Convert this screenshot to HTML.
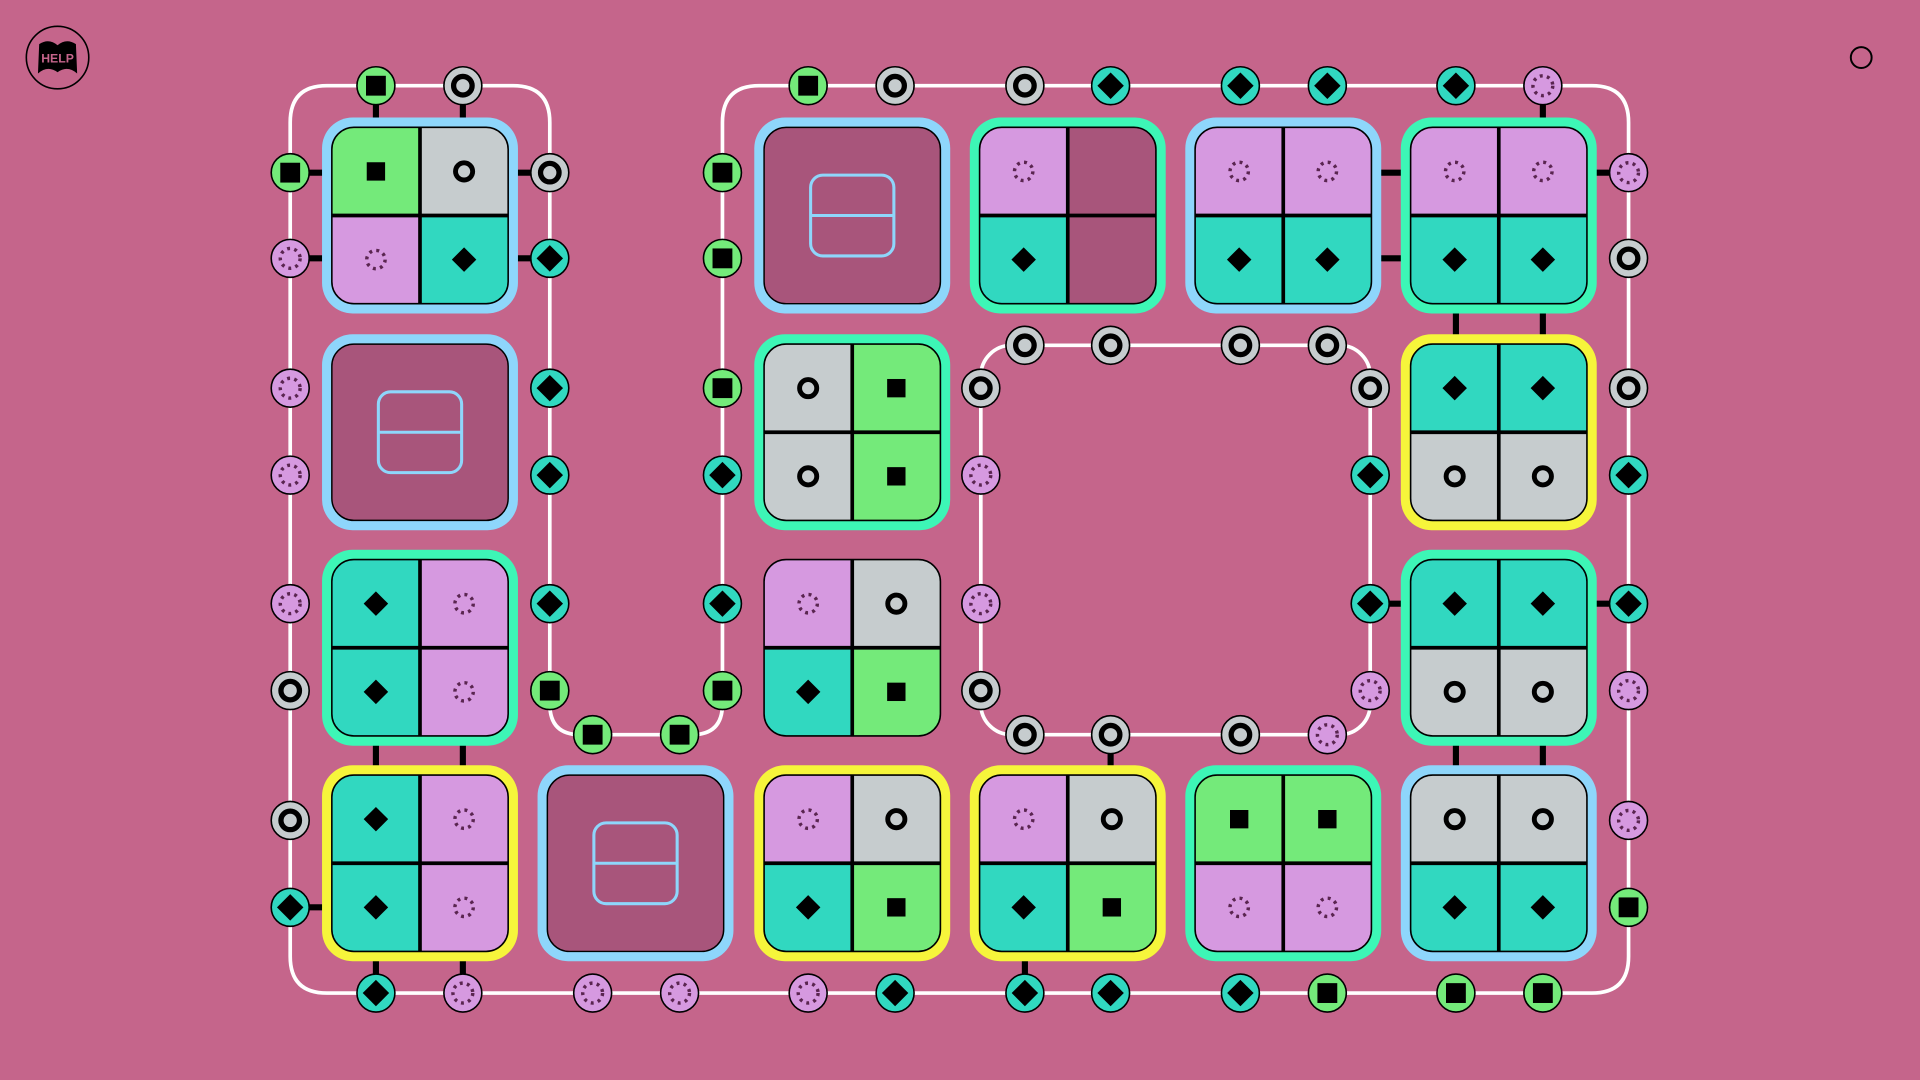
<!DOCTYPE html>
<html><head><meta charset="utf-8"><style>
html,body{margin:0;padding:0;background:#c5658b;overflow:hidden}
svg{display:block}
</style></head><body>
<svg id="s" width="1920" height="1080" viewBox="0 0 1568 882" xmlns="http://www.w3.org/2000/svg">
<rect width="1568" height="882" fill="#c5658b"/>
<g id="g"></g>
<circle cx="47" cy="47" r="25.5" fill="#c5658b" stroke="#000" stroke-width="1.3"/>
<path d="M32,36 Q40,31 47,37 Q54,31 62,36 L63,60 Q55,53 47,59 Q39,53 31,60 Z" fill="#000"/>
<text x="47" y="51" text-anchor="middle" font-family="Liberation Sans, sans-serif" font-weight="bold" font-size="10" fill="#c5658b">HELP</text>
<circle cx="1520" cy="47" r="8.5" fill="none" stroke="#000" stroke-width="1.6"/>
</svg>
<script>
const C={G:'#74ea7a',Y:'#c6ccce',L:'#d699e0',T:'#31d8c0',M:'#a8557b'};
const F={B:'#8ed6fb',N:'#3df6b6',Y:'#f6f53b'};
let o='';
function icon(t,x,y,k){k=k||1;
 if(t=='G'){let h=7.5*k;o+=`<rect x="${x-h}" y="${y-h}" width="${2*h}" height="${2*h}" fill="#000"/>`;}
 else if(t=='Y'){o+=`<circle cx="${x}" cy="${y}" r="${7*k}" fill="none" stroke="#000" stroke-width="${4*k}"/>`;}
 else if(t=='L'){o+=`<circle cx="${x}" cy="${y}" r="${7.5*k}" fill="none" stroke="#5a2550" stroke-width="2.8" stroke-dasharray="2.4 3.5"/>`;}
 else if(t=='T'){let h=10*k;o+=`<polygon points="${x},${y-h} ${x+h},${y} ${x},${y+h} ${x-h},${y}" fill="#000"/>`;}
}
function node(t,x,y){o+=`<circle cx="${x}" cy="${y}" r="15.5" fill="${C[t]}" stroke="#000" stroke-width="1.3"/>`;icon(t,x,y,1.08);}
function line(x1,y1,x2,y2){o+=`<line x1="${x1}" y1="${y1}" x2="${x2}" y2="${y2}" stroke="#000" stroke-width="5"/>`;}
const cols=[343,519,696,872,1048,1224], rows=[176,353,529,705];
let tid=0;
function tile(r,c,f,q){
 let x=cols[c],y=rows[r];
 if(f) o+=`<rect x="${x-80}" y="${y-80}" width="160" height="160" rx="25" fill="${F[f]}"/>`;
 if(q=='blank'){
  o+=`<rect x="${x-72}" y="${y-72}" width="144" height="144" rx="18" fill="${C.M}" stroke="#000" stroke-width="1.2"/>`;
  o+=`<rect x="${x-34}" y="${y-33}" width="68" height="66" rx="10" fill="none" stroke="${F.B}" stroke-width="2.5"/>`;
  o+=`<line x1="${x-34}" y1="${y}" x2="${x+34}" y2="${y}" stroke="${F.B}" stroke-width="2.5"/>`;
  return;
 }
 let id='c'+(tid++);
 o+=`<clipPath id="${id}"><rect x="${x-72}" y="${y-72}" width="144" height="144" rx="18"/></clipPath><g clip-path="url(#${id})">`;
 o+=`<rect x="${x-72}" y="${y-72}" width="72" height="72" fill="${C[q[0]]}"/>`;
 o+=`<rect x="${x}" y="${y-72}" width="72" height="72" fill="${C[q[1]]}"/>`;
 o+=`<rect x="${x-72}" y="${y}" width="72" height="72" fill="${C[q[2]]}"/>`;
 o+=`<rect x="${x}" y="${y}" width="72" height="72" fill="${C[q[3]]}"/>`;
 o+=`</g>`;
 o+=`<line x1="${x}" y1="${y-72}" x2="${x}" y2="${y+72}" stroke="#000" stroke-width="3"/>`;
 o+=`<line x1="${x-72}" y1="${y}" x2="${x+72}" y2="${y}" stroke="#000" stroke-width="3"/>`;
 o+=`<rect x="${x-72}" y="${y-72}" width="144" height="144" rx="18" fill="none" stroke="#000" stroke-width="1.3"/>`;
 const p=[[-36,-36],[36,-36],[-36,36],[36,36]];
 for(let i=0;i<4;i++) if(q[i]!='M') icon(q[i],x+p[i][0],y+p[i][1]);
}
o+=`<path d="M267,70 H419 Q449,70 449,100 V575 Q449,600 474,600 H565 Q590,600 590,575 V100 Q590,70 620,70 H1300 Q1330,70 1330,100 V781 Q1330,811 1300,811 H267 Q237,811 237,781 V100 Q237,70 267,70 Z" fill="none" stroke="#fff" stroke-width="3"/>`;
o+=`<rect x="801" y="282" width="318" height="318" rx="25" fill="none" stroke="#fff" stroke-width="3"/>`;
line(307,70,307,150);line(378,70,378,150);line(237,141,300,141);line(237,211,300,211);line(449,141,380,141);line(449,211,380,211);
line(1100,141,1200,141);line(1100,211,1200,211);line(1330,141,1250,141);line(1260,70,1260,150);
line(1189,200,1189,300);line(1260,200,1260,300);
line(1119,493,1200,493);line(1330,493,1250,493);
line(1189,560,1189,650);line(1260,560,1260,650);
line(307,560,307,650);line(378,560,378,650);
line(237,741,300,741);line(307,811,307,740);line(378,811,378,740);
line(907,600,907,700);line(837,811,837,740);
tile(0,0,'B','GYLT');tile(0,2,'B','blank');tile(0,3,'N','LMTM');tile(0,4,'B','LLTT');tile(0,5,'N','LLTT');
tile(1,0,'B','blank');tile(1,2,'N','YGYG');tile(1,5,'Y','TTYY');
tile(2,0,'N','TLTL');tile(2,2,null,'LYTG');tile(2,5,'N','TTYY');
tile(3,0,'Y','TLTL');tile(3,1,'B','blank');tile(3,2,'Y','LYTG');tile(3,3,'Y','LYTG');tile(3,4,'N','GGLL');tile(3,5,'B','YYTT');
[[307,'G'],[378,'Y'],[660,'G'],[731,'Y'],[837,'Y'],[907,'T'],[1013,'T'],[1084,'T'],[1189,'T'],[1260,'L']].forEach(a=>node(a[1],a[0],70));
[[141,'G'],[211,'L'],[317,'L'],[388,'L'],[493,'L'],[564,'Y'],[670,'Y'],[741,'T']].forEach(a=>node(a[1],237,a[0]));
[[141,'Y'],[211,'T'],[317,'T'],[388,'T'],[493,'T'],[564,'G']].forEach(a=>node(a[1],449,a[0]));
node('G',484,600);node('G',555,600);
[[141,'G'],[211,'G'],[317,'G'],[388,'T'],[493,'T'],[564,'G']].forEach(a=>node(a[1],590,a[0]));
[[141,'L'],[211,'Y'],[317,'Y'],[388,'T'],[493,'T'],[564,'L'],[670,'L'],[741,'G']].forEach(a=>node(a[1],1330,a[0]));
[[307,'T'],[378,'L'],[484,'L'],[555,'L'],[660,'L'],[731,'T'],[837,'T'],[907,'T'],[1013,'T'],[1084,'G'],[1189,'G'],[1260,'G']].forEach(a=>node(a[1],a[0],811));
[[837,'Y'],[907,'Y'],[1013,'Y'],[1084,'Y']].forEach(a=>node(a[1],a[0],282));
[[317,'Y'],[388,'L'],[493,'L'],[564,'Y']].forEach(a=>node(a[1],801,a[0]));
[[317,'Y'],[388,'T'],[493,'T'],[564,'L']].forEach(a=>node(a[1],1119,a[0]));
[[837,'Y'],[907,'Y'],[1013,'Y'],[1084,'L']].forEach(a=>node(a[1],a[0],600));
document.getElementById('g').innerHTML=o;
</script>
</body></html>
